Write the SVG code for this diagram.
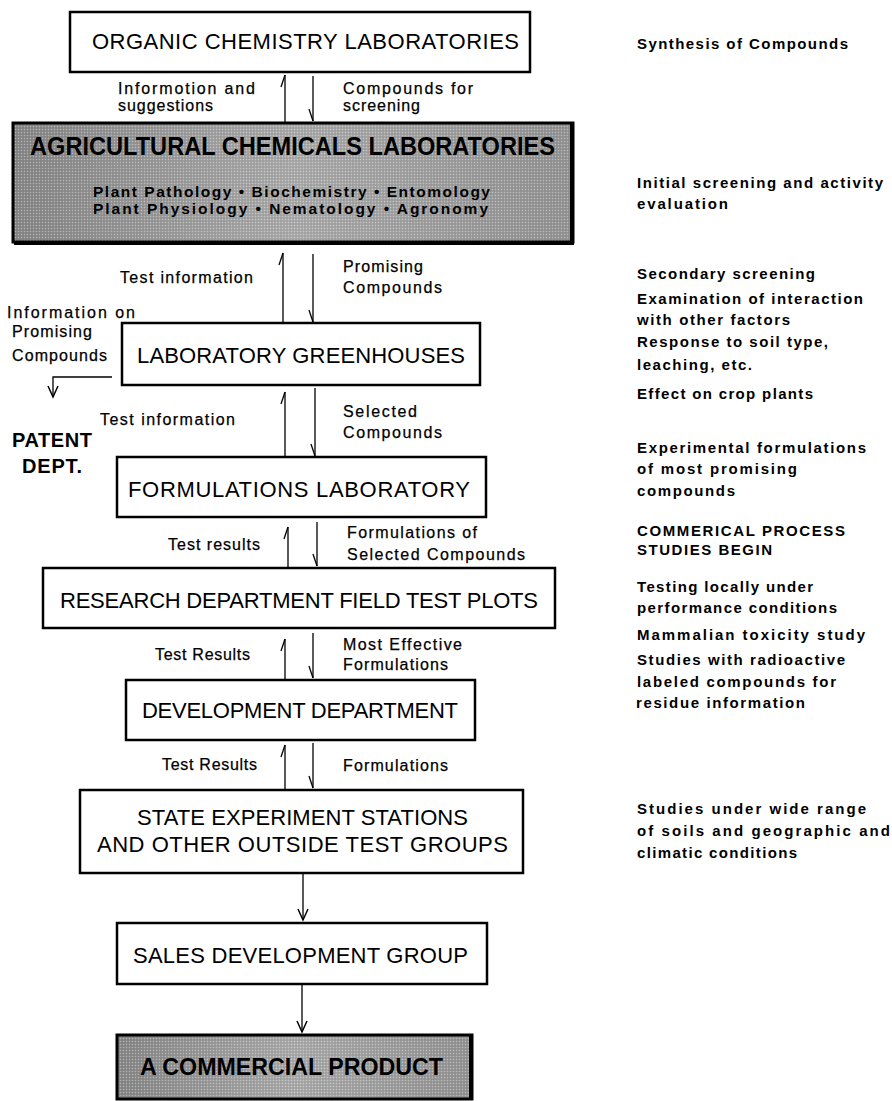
<svg xmlns="http://www.w3.org/2000/svg" width="892" height="1101" viewBox="0 0 892 1101">
<style>
.box{fill:#fff;stroke:#000;stroke-width:2.5}
.gbox{stroke:#000;stroke-width:3}
.t{font-family:"Liberation Sans",Arial,sans-serif;font-size:22px;fill:#000}
.tb{font-family:"Liberation Sans",Arial,sans-serif;font-weight:bold;fill:#000}
.l{font-family:"Liberation Sans",Arial,sans-serif;font-size:16px;fill:#000;stroke:#000;stroke-width:0.25}
.r{font-family:"Liberation Sans",Arial,sans-serif;font-size:15px;font-weight:bold;fill:#000}
.c{stroke:#000;stroke-width:1.3;fill:none}
.up{marker-end:url(#barbUp)}
.dn{marker-end:url(#barbDn)}
.full{marker-end:url(#vhead)}
</style>
<defs>
<marker id="barbUp" markerUnits="userSpaceOnUse" orient="auto" refX="0" refY="0" markerWidth="20" markerHeight="20" overflow="visible"><path d="M0,0 L-12,-4" stroke="#000" stroke-width="1.3" fill="none"/></marker>
<marker id="barbDn" markerUnits="userSpaceOnUse" orient="auto" refX="0" refY="0" markerWidth="20" markerHeight="20" overflow="visible"><path d="M0,0 L-12,4" stroke="#000" stroke-width="1.3" fill="none"/></marker>
<marker id="vhead" markerUnits="userSpaceOnUse" orient="auto" refX="0" refY="0" markerWidth="20" markerHeight="20" overflow="visible"><path d="M-11,-5 L0,0 L-11,5" stroke="#000" stroke-width="1.5" fill="none"/></marker>
<linearGradient id="gray" x1="0" y1="0" x2="1" y2="0"><stop offset="0" stop-color="#8a8a8a"/><stop offset="0.5" stop-color="#adadad"/><stop offset="1" stop-color="#969696"/></linearGradient>
<pattern id="dots" width="3" height="3" patternUnits="userSpaceOnUse"><rect width="3" height="3" fill="none"/><rect x="0" y="0" width="1" height="1" fill="#fff" opacity="0.35"/><rect x="1.5" y="1.5" width="1" height="1" fill="#000" opacity="0.25"/></pattern>
</defs>

<g id="n-organic">
<rect class="box" x="70" y="12" width="460" height="60"/>
<text class="t" x="92" y="49" textLength="427" lengthAdjust="spacing">ORGANIC CHEMISTRY LABORATORIES</text>
</g>

<g id="n-agricultural">
<rect x="13" y="123" width="560" height="119" fill="url(#gray)"/>
<rect x="13" y="123" width="560" height="119" fill="url(#dots)"/>
<rect class="gbox" x="13" y="123" width="560" height="119" fill="none"/>
<path d="M572,124 V243 H14" stroke="#000" stroke-width="4" fill="none"/>
<text class="tb" x="30" y="155" font-size="25" textLength="525" lengthAdjust="spacingAndGlyphs">AGRICULTURAL CHEMICALS LABORATORIES</text>
<text class="tb" x="93" y="197" font-size="15.5" textLength="397" lengthAdjust="spacing">Plant Pathology • Biochemistry • Entomology</text>
<text class="tb" x="93" y="214" font-size="15.5" textLength="395" lengthAdjust="spacing">Plant Physiology • Nematology • Agronomy</text>
</g>

<g id="n-greenhouses">
<rect class="box" x="122" y="323" width="358" height="62"/>
<text class="t" x="137" y="363" textLength="328" lengthAdjust="spacing">LABORATORY GREENHOUSES</text>
</g>

<g id="n-patent">
<text class="tb" x="12" y="447" font-size="20" textLength="80" lengthAdjust="spacing">PATENT</text>
<text class="tb" x="22" y="473" font-size="20" textLength="60" lengthAdjust="spacing">DEPT.</text>
</g>

<g id="n-formulations">
<rect class="box" x="117" y="457" width="369" height="60"/>
<text class="t" x="128" y="497" textLength="342" lengthAdjust="spacing">FORMULATIONS LABORATORY</text>
</g>

<g id="n-research">
<rect class="box" x="43" y="568" width="512" height="60"/>
<text class="t" x="60" y="608" textLength="478" lengthAdjust="spacing">RESEARCH DEPARTMENT FIELD TEST PLOTS</text>
</g>

<g id="n-development">
<rect class="box" x="126" y="680" width="349" height="60"/>
<text class="t" x="142" y="718" textLength="316" lengthAdjust="spacing">DEVELOPMENT DEPARTMENT</text>
</g>

<g id="n-state">
<rect class="box" x="80" y="790" width="443" height="83"/>
<text class="t" x="137" y="825" textLength="331" lengthAdjust="spacing">STATE EXPERIMENT STATIONS</text>
<text class="t" x="97" y="852" textLength="411" lengthAdjust="spacing">AND OTHER OUTSIDE TEST GROUPS</text>
</g>

<g id="n-sales">
<rect class="box" x="117" y="923" width="370" height="61"/>
<text class="t" x="133" y="963" textLength="335" lengthAdjust="spacing">SALES DEVELOPMENT GROUP</text>
</g>

<g id="n-product">
<rect x="117" y="1035" width="355" height="64" fill="url(#gray)"/>
<rect x="117" y="1035" width="355" height="64" fill="url(#dots)"/>
<rect class="gbox" x="117" y="1035" width="355" height="64" fill="none"/>
<path d="M471,1036 V1099" stroke="#000" stroke-width="4" fill="none"/>
<text class="tb" x="140" y="1075" font-size="24" textLength="303" lengthAdjust="spacingAndGlyphs">A COMMERCIAL PRODUCT</text>
</g>

<g id="connectors">
<path class="c up" d="M285,122 V75"/>
<path class="c dn" d="M313,76 V121"/>
<path class="c up" d="M283,323 V253"/>
<path class="c dn" d="M313,254 V322"/>
<path class="c up" d="M285,457 V392"/>
<path class="c dn" d="M315,388 V456"/>
<path class="c up" d="M288,567 V527"/>
<path class="c dn" d="M317,522 V566"/>
<path class="c up" d="M285,679 V639"/>
<path class="c dn" d="M313,633 V678"/>
<path class="c up" d="M285,789 V745"/>
<path class="c dn" d="M313,743 V788"/>
<path class="c full" d="M303,874 V920"/>
<path class="c full" d="M302,985 V1032"/>
<path class="c full" d="M112,377 H53 V397"/>
</g>

<g id="labels">
<text class="l" x="118" y="94" textLength="137" lengthAdjust="spacing">Informotion and</text>
<text class="l" x="118" y="111" textLength="95" lengthAdjust="spacing">suggestions</text>
<text class="l" x="343" y="94" textLength="130" lengthAdjust="spacing">Compounds for</text>
<text class="l" x="343" y="111" textLength="77" lengthAdjust="spacing">screening</text>
<text class="l" x="120" y="283" textLength="133" lengthAdjust="spacing">Test information</text>
<text class="l" x="343" y="272" textLength="80" lengthAdjust="spacing">Promising</text>
<text class="l" x="343" y="293" textLength="99" lengthAdjust="spacing">Compounds</text>
<text class="l" x="7" y="318" textLength="128" lengthAdjust="spacing">Information on</text>
<text class="l" x="12" y="337" textLength="80" lengthAdjust="spacing">Promising</text>
<text class="l" x="12" y="361" textLength="95" lengthAdjust="spacing">Compounds</text>
<text class="l" x="100" y="425" textLength="135" lengthAdjust="spacing">Test information</text>
<text class="l" x="343" y="417" textLength="74" lengthAdjust="spacing">Selected</text>
<text class="l" x="343" y="438" textLength="99" lengthAdjust="spacing">Compounds</text>
<text class="l" x="168" y="550" textLength="92" lengthAdjust="spacing">Test results</text>
<text class="l" x="347" y="538" textLength="130" lengthAdjust="spacing">Formulations of</text>
<text class="l" x="347" y="560" textLength="178" lengthAdjust="spacing">Selected Compounds</text>
<text class="l" x="155" y="660" textLength="95" lengthAdjust="spacing">Test Results</text>
<text class="l" x="343" y="650" textLength="119" lengthAdjust="spacing">Most Effective</text>
<text class="l" x="343" y="670" textLength="105" lengthAdjust="spacing">Formulations</text>
<text class="l" x="162" y="770" textLength="95" lengthAdjust="spacing">Test Results</text>
<text class="l" x="343" y="771" textLength="105" lengthAdjust="spacing">Formulations</text>
</g>

<g id="notes">
<text class="r" x="637" y="49" textLength="211" lengthAdjust="spacing">Synthesis of Compounds</text>
<text class="r" x="637" y="188" textLength="246" lengthAdjust="spacing">Initial screening and activity</text>
<text class="r" x="637" y="209" textLength="91" lengthAdjust="spacing">evaluation</text>
<text class="r" x="637" y="279" textLength="178" lengthAdjust="spacing">Secondary screening</text>
<text class="r" x="637" y="304" textLength="226" lengthAdjust="spacing">Examination of interaction</text>
<text class="r" x="637" y="325" textLength="153" lengthAdjust="spacing">with other factors</text>
<text class="r" x="637" y="347" textLength="191" lengthAdjust="spacing">Response to soil type,</text>
<text class="r" x="637" y="370" textLength="115" lengthAdjust="spacing">leaching, etc.</text>
<text class="r" x="637" y="399" textLength="176" lengthAdjust="spacing">Effect on crop plants</text>
<text class="r" x="637" y="453" textLength="229" lengthAdjust="spacing">Experimental formulations</text>
<text class="r" x="637" y="474" textLength="160" lengthAdjust="spacing">of most promising</text>
<text class="r" x="637" y="496" textLength="98" lengthAdjust="spacing">compounds</text>
<text class="r" x="637" y="536" textLength="208" lengthAdjust="spacing">COMMERICAL PROCESS</text>
<text class="r" x="637" y="555" textLength="135" lengthAdjust="spacing">STUDIES BEGIN</text>
<text class="r" x="637" y="592" textLength="176" lengthAdjust="spacing">Testing locally under</text>
<text class="r" x="637" y="613" textLength="200" lengthAdjust="spacing">performance conditions</text>
<text class="r" x="637" y="640" textLength="228" lengthAdjust="spacing">Mammalian toxicity study</text>
<text class="r" x="637" y="665" textLength="208" lengthAdjust="spacing">Studies with radioactive</text>
<text class="r" x="637" y="687" textLength="199" lengthAdjust="spacing">labeled compounds for</text>
<text class="r" x="636" y="708" textLength="169" lengthAdjust="spacing">residue information</text>
<text class="r" x="637" y="814" textLength="229" lengthAdjust="spacing">Studies under wide range</text>
<text class="r" x="637" y="836" textLength="253" lengthAdjust="spacing">of soils and geographic and</text>
<text class="r" x="637" y="858" textLength="160" lengthAdjust="spacing">climatic conditions</text>
</g>
</svg>
